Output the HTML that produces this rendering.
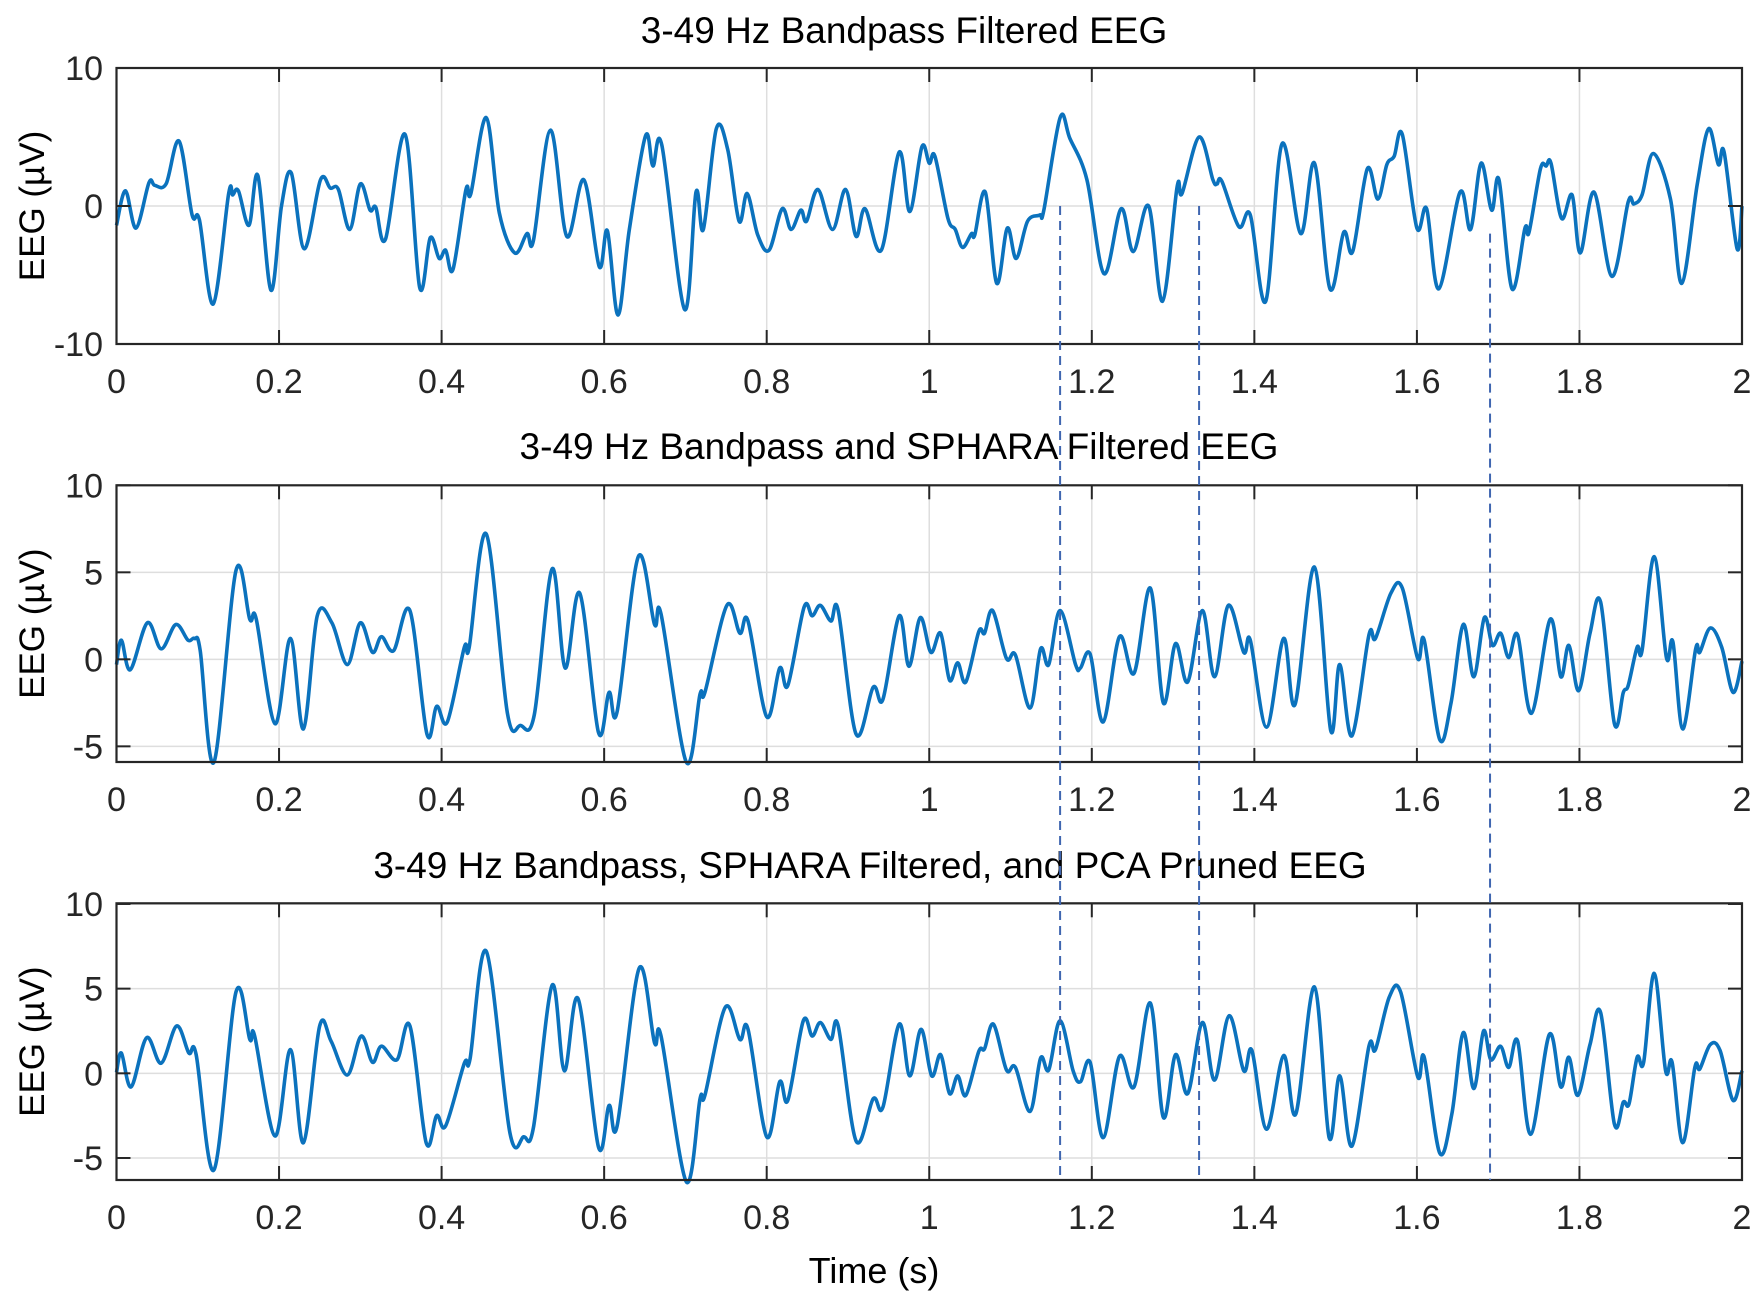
<!DOCTYPE html>
<html><head><meta charset="utf-8"><style>
html,body{margin:0;padding:0;background:#fff;}
svg{display:block;font-family:"Liberation Sans",Arial,sans-serif;}
</style></head><body>
<svg id="chart" width="1760" height="1306" viewBox="0 0 1760 1306" xmlns="http://www.w3.org/2000/svg"></svg>
<script>
const times1=[0,.011,.024,.040,.047,.061,.077,.093,.102,.119,.138,.143,.150,.163,.174,.190,.203,.215,.231,.251,.263,.273,.287,.300,.312,.319,.331,.355,.373,.386,.397,.405,.414,.430,.436,.455,.471,.490,.505,.513,.534,.554,.575,.594,.604,.617,.631,.651,.660,.671,.699,.713,.722,.738,.752,.766,.776,.789,.803,.819,.830,.842,.849,.863,.881,.897,.910,.921,.941,.963,.976,.991,1.0,1.007,1.023,1.032,1.041,1.052,1.056,1.069,1.083,1.096,1.107,1.121,1.136,1.141,1.161,1.173,1.194,1.215,1.236,1.251,1.270,1.287,1.305,1.311,1.332,1.349,1.354,1.360,1.381,1.395,1.414,1.434,1.457,1.474,1.493,1.510,1.521,1.539,1.552,1.563,1.572,1.582,1.600,1.612,1.627,1.653,1.666,1.679,1.692,1.701,1.717,1.733,1.738,1.752,1.759,1.765,1.778,1.791,1.801,1.818,1.840,1.860,1.867,1.877,1.891,1.912,1.926,1.945,1.959,1.971,1.978,1.994,2.0];
const values1=[-1.4,1.1,-1.6,1.7,1.5,1.6,4.7,-0.65,-1.0,-7.1,0.9,0.8,1.1,-1.4,2.2,-6.1,0,2.4,-3.1,1.9,1.3,1.2,-1.7,1.6,-0.3,-0.1,-2.4,5.2,-5.9,-2.3,-3.8,-3.2,-4.6,1.2,0.9,6.4,-0.5,-3.4,-2.0,-2.5,5.5,-2.2,1.9,-4.4,-1.8,-7.9,-1.7,5.1,2.9,4.4,-7.5,1.0,-1.7,5.6,4.1,-1.1,0.9,-2.1,-3.2,-0.2,-1.7,-0.3,-1.1,1.2,-1.7,1.2,-2.2,-0.2,-3.2,3.9,-0.4,4.3,3.1,3.6,-0.9,-1.7,-3.0,-2.0,-2.1,1.0,-5.6,-1.6,-3.8,-1.1,-0.65,-0.3,6.4,4.9,1.9,-4.9,-0.2,-3.3,0,-6.9,1.4,0.9,5.0,1.9,1.6,1.8,-1.5,-0.65,-6.9,4.5,-2.0,3.1,-6.0,-1.9,-3.3,2.7,0.5,3.0,3.6,5.2,-1.6,-0.2,-6.0,1.0,-1.7,3.1,-0.3,1.9,-6.0,-1.6,-1.9,2.7,2.9,3.1,-0.9,0.8,-3.4,1.0,-5.1,0.3,0.15,0.8,3.8,0.5,-5.6,1.6,5.6,3.0,3.9,-3.1,0];
const times2=[0,.006,.017,.038,.055,.073,.088,.096,.103,.120,.147,.164,.172,.195,.214,.230,.247,.265,.284,.300,.315,.326,.341,.361,.382,.394,.407,.428,.434,.455,.481,.497,.514,.536,.552,.570,.593,.606,.616,.642,.662,.670,.701,.718,.724,.751,.767,.777,.800,.816,.826,.846,.856,.866,.879,.888,.910,.931,.943,.963,.975,.989,1.002,1.014,1.025,1.035,1.045,1.061,1.068,1.078,1.095,1.106,1.124,1.137,1.147,1.161,1.180,1.186,1.198,1.214,1.234,1.252,1.272,1.288,1.303,1.318,1.336,1.351,1.368,1.387,1.395,1.415,1.436,1.450,1.474,1.494,1.505,1.520,1.541,1.549,1.568,1.582,1.601,1.609,1.628,1.642,1.657,1.670,1.683,1.693,1.703,1.713,1.724,1.741,1.764,1.777,1.787,1.799,1.813,1.826,1.843,1.854,1.860,1.871,1.877,1.892,1.907,1.915,1.927,1.943,1.948,1.961,1.975,1.989,2.0];
const values2=[-0.3,1.1,-0.6,2.1,0.6,2.0,1.1,1.2,0.5,-5.9,5.1,2.3,2.3,-3.7,1.2,-4.0,2.5,2.1,-0.3,2.1,0.4,1.3,0.5,2.8,-4.3,-2.7,-3.6,0.7,0.7,7.2,-3.1,-3.8,-3.2,5.2,-0.5,3.8,-4.2,-1.9,-3.0,5.9,2.0,2.6,-5.9,-2.0,-1.9,3.1,1.5,2.2,-3.3,-0.5,-1.5,3.0,2.5,3.1,2.2,2.8,-4.3,-1.6,-2.3,2.5,-0.4,2.4,0.4,1.5,-1.2,-0.2,-1.3,1.6,1.5,2.8,0.05,0.25,-2.8,0.6,-0.3,2.8,-0.3,-0.5,0.3,-3.6,1.3,-0.8,4.1,-2.5,0.9,-1.3,2.8,-1.0,3.1,0.4,1.1,-3.9,1.2,-2.6,5.3,-4.1,-0.3,-4.4,1.4,1.2,3.8,4.1,0.05,1.1,-4.6,-2.5,2.0,-1.0,2.4,0.8,1.5,0.1,1.4,-3.1,2.3,-1.0,0.8,-1.8,1.5,3.3,-3.7,-1.9,-1.5,0.7,0.5,5.9,0.1,1.0,-4.0,0.6,0.4,1.8,0.7,-1.9,-0.1];
const times3=[0,.006,.018,.037,.055,.074,.089,.098,.120,.147,.164,.170,.195,.214,.230,.250,.264,.284,.301,.315,.326,.345,.361,.381,.394,.405,.428,.435,.455,.484,.501,.513,.536,.551,.568,.593,.606,.616,.643,.662,.670,.701,.718,.724,.749,.767,.777,.800,.816,.826,.845,.856,.866,.879,.888,.910,.931,.943,.963,.976,.990,1.003,1.014,1.025,1.035,1.045,1.061,1.068,1.079,1.095,1.106,1.124,1.137,1.147,1.161,1.177,1.186,1.198,1.214,1.234,1.252,1.272,1.288,1.303,1.318,1.336,1.351,1.369,1.387,1.397,1.415,1.436,1.451,1.474,1.492,1.505,1.520,1.541,1.549,1.566,1.580,1.601,1.609,1.628,1.643,1.657,1.670,1.682,1.691,1.703,1.713,1.724,1.740,1.763,1.777,1.787,1.798,1.813,1.826,1.843,1.854,1.861,1.871,1.879,1.892,1.906,1.914,1.927,1.942,1.948,1.961,1.973,1.989,2.0];
const values3=[0.05,1.2,-0.8,2.1,0.6,2.8,1.2,1.1,-5.7,4.8,2.0,2.2,-3.7,1.4,-4.1,2.8,1.9,-0.1,2.2,0.65,1.6,0.8,2.8,-4.1,-2.5,-3.1,0.6,0.85,7.2,-3.5,-3.75,-3.2,5.2,0.15,4.4,-4.35,-1.9,-3.1,6.2,1.8,2.2,-6.4,-1.5,-1.3,3.9,2.0,2.6,-3.75,-0.5,-1.6,3.1,2.2,3.0,2.0,2.8,-4.0,-1.5,-2.0,2.9,-0.15,2.6,-0.15,1.1,-1.2,-0.15,-1.3,1.3,1.45,2.9,0.2,0.35,-2.25,0.9,0.2,3.1,0.15,-0.5,0.65,-3.8,1.0,-0.8,4.15,-2.6,1.1,-1.2,3.0,-0.4,3.4,0.15,1.35,-3.3,1.05,-2.4,5.1,-3.8,-0.15,-4.3,1.6,1.4,4.5,4.8,-0.2,0.95,-4.7,-2.4,2.4,-0.9,2.5,0.8,1.6,0.35,1.9,-3.6,2.3,-0.8,0.95,-1.3,1.7,3.6,-3.0,-1.7,-1.8,0.95,0.65,5.9,0.15,0.65,-4.1,0.35,0.25,1.7,1.35,-1.6,0.15];
const markerTimes=[1.161,1.332,1.69];
const markerStartValues=[0,0,-2.0];
const xTicks=[0,0.2,0.4,0.6,0.8,1,1.2,1.4,1.6,1.8,2];
const xTickLabels=["0","0.2","0.4","0.6","0.8","1","1.2","1.4","1.6","1.8","2"];
const yTicks1=[-10,0,10];
const yTicks23=[-5,0,5,10];
const titles=["3-49 Hz Bandpass Filtered EEG","3-49 Hz Bandpass and SPHARA Filtered EEG","3-49 Hz Bandpass, SPHARA Filtered, and PCA Pruned EEG"];

const NS="http://www.w3.org/2000/svg";
const svg=document.getElementById('chart');
const X0=116.5,X1=1742;
const panels=[
 {top:68,bottom:344,ymin:-10,ymax:10,ticks:yTicks1,t:times1,v:values1,tx:904,ty:43,name:'bandpass'},
 {top:485.3,bottom:762,ymin:-5.9,ymax:10,ticks:yTicks23,t:times2,v:values2,tx:899,ty:459,name:'sphara'},
 {top:903.3,bottom:1180,ymin:-6.3,ymax:10.04,ticks:yTicks23,t:times3,v:values3,tx:870,ty:878,name:'pca'}
];
function xs(t){return X0+(t/2)*(X1-X0);}
function mkY(p){return v=>p.bottom-(v-p.ymin)/(p.ymax-p.ymin)*(p.bottom-p.top);}
function el(tag,attrs,parent){const e=document.createElementNS(NS,tag);for(const k in attrs)e.setAttribute(k,attrs[k]);(parent||svg).appendChild(e);return e;}
function splinePath(ts,vs,ys){
  const P=ts.map((t,i)=>[xs(t),ys(vs[i])]);
  let d='M'+P[0][0].toFixed(2)+','+P[0][1].toFixed(2);
  for(let i=0;i<P.length-1;i++){
    const p0=P[Math.max(0,i-1)],p1=P[i],p2=P[i+1],p3=P[Math.min(P.length-1,i+2)];
    const c1=[p1[0]+(p2[0]-p0[0])/6,p1[1]+(p2[1]-p0[1])/6];
    const c2=[p2[0]-(p3[0]-p1[0])/6,p2[1]-(p3[1]-p1[1])/6];
    d+='C'+c1[0].toFixed(2)+','+c1[1].toFixed(2)+' '+c2[0].toFixed(2)+','+c2[1].toFixed(2)+' '+p2[0].toFixed(2)+','+p2[1].toFixed(2);
  }
  return d;
}
panels.forEach((p,pi)=>{
  const ys=mkY(p);
  const g=el('g',{});
  
  
  xTicks.forEach(t=>{
    const l=el('line',{x1:xs(t),x2:xs(t),y1:p.top,y2:p.bottom,stroke:'#dedede','stroke-width':1.5},g);
    
    
  });
  p.ticks.forEach(v=>{
    const l=el('line',{x1:X0,x2:X1,y1:ys(v),y2:ys(v),stroke:'#dedede','stroke-width':1.5},g);
    
    
  });
  const path=el('path',{d:splinePath(p.t,p.v,ys),fill:'none',stroke:'#0b72bd','stroke-width':3.6,'stroke-linejoin':'round'},g);
  
  
  xTicks.forEach((t,i)=>{
    el('line',{x1:xs(t),x2:xs(t),y1:p.bottom,y2:p.bottom-14,stroke:'#262626','stroke-width':2},g);
    el('line',{x1:xs(t),x2:xs(t),y1:p.top,y2:p.top+14,stroke:'#262626','stroke-width':2},g);
    const tx=el('text',{x:xs(t),y:p.bottom+49,'font-size':34,'text-anchor':'middle',fill:'#262626'},g);
    tx.textContent=xTickLabels[i];
    
    
  });
  p.ticks.forEach(v=>{
    el('line',{x1:X0,x2:X0+14,y1:ys(v),y2:ys(v),stroke:'#262626','stroke-width':2},g);
    el('line',{x1:X1,x2:X1-14,y1:ys(v),y2:ys(v),stroke:'#262626','stroke-width':2},g);
    const tx=el('text',{x:103,y:ys(v)+12,'font-size':34,'text-anchor':'end',fill:'#262626'},g);
    tx.textContent=String(v);
    
    
  });
  const box=el('rect',{x:X0,y:p.top,width:X1-X0,height:p.bottom-p.top,fill:'none',stroke:'#262626','stroke-width':2.2},g);
  
  
  const yl=el('text',{x:0,y:0,'font-size':35,'text-anchor':'middle',fill:'#000',transform:'translate(44,'+((p.top+p.bottom)/2)+') rotate(-90)'},g);
  yl.textContent='EEG (\u00b5V)';
  
  
  const ti=el('text',{x:p.tx,y:p.ty,'font-size':37,'text-anchor':'middle',fill:'#000'},g);
  ti.textContent=titles[pi];
  
  
});
const ys1=mkY(panels[0]);
markerTimes.forEach((t,i)=>{
  const l=el('line',{x1:xs(t),x2:xs(t),y1:ys1(markerStartValues[i]),y2:1180,stroke:'#3f66b0','stroke-width':2,'stroke-dasharray':'9,6'});
  
  
});
const xl=el('text',{x:874,y:1283,'font-size':36,'text-anchor':'middle',fill:'#000'});
xl.textContent='Time (s)';


</script>
</body></html>
